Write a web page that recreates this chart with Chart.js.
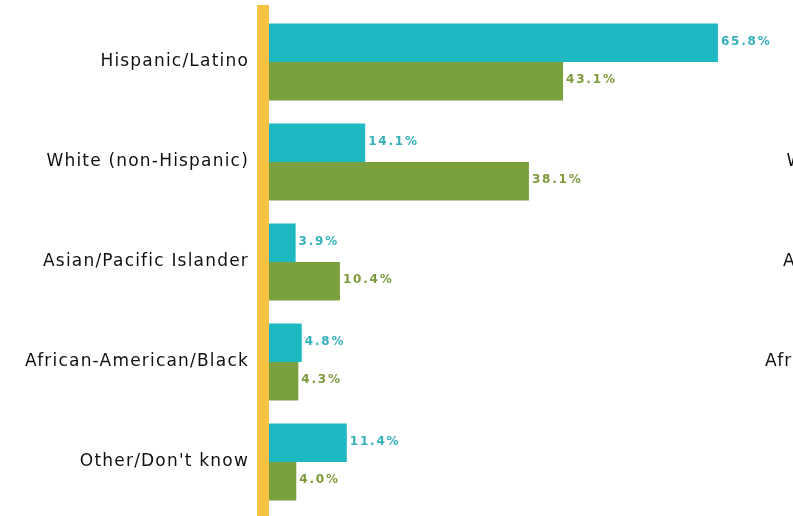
<!DOCTYPE html>
<html>
<head>
<meta charset="utf-8">
<script src="https://cdn.jsdelivr.net/npm/chart.js@4/dist/chart.umd.min.js"></script>
<style>
  html, body { margin: 0; padding: 0; background: #fff; }
  #wrap { width: 793px; height: 516px; position: relative; }
</style>
</head>
<body>
<div id="wrap"><canvas id="chart"></canvas></div>
<script>
const categories = [
  "Hispanic/Latino",
  "White (non-Hispanic)",
  "Asian/Pacific Islander",
  "African-American/Black",
  "Other/Don't know"
];
const series_a = [65.8, 14.1, 3.9, 4.8, 11.4];
const series_b = [43.1, 38.1, 10.4, 4.3, 4.0];

const TEAL = '#1db8c1';
const GREEN = '#7ba03e';
const YELLOW = '#f6c244';
const LABEL_SPACING = '1.2px';

// yellow spine on the left of the bars
const spine = {
  id: 'spine',
  beforeDatasetsDraw(chart) {
    const ctx = chart.ctx;
    const a = chart.chartArea;
    ctx.save();
    ctx.fillStyle = YELLOW;
    ctx.fillRect(a.left - 12, a.top - 7, 12, chart.height);
    ctx.restore();
  }
};

// value labels at the end of every bar
const valueLabels = {
  id: 'valueLabels',
  afterDatasetsDraw(chart) {
    const ctx = chart.ctx;
    ctx.save();
    ctx.font = 'bold 12px "DejaVu Sans"';
    ctx.letterSpacing = '1.8px';
    ctx.textBaseline = 'middle';
    ctx.textAlign = 'left';
    chart.data.datasets.forEach((ds, i) => {
      ctx.fillStyle = ds.labelColor;
      chart.getDatasetMeta(i).data.forEach((bar, j) => {
        ctx.fillText(ds.data[j].toFixed(1) + '%', bar.x + 3, bar.y - 1);
      });
    });
    ctx.restore();
  }
};

// the next chart's labels peek in at the right edge
const neighbour = {
  id: 'neighbour',
  afterDraw(chart) {
    const ctx = chart.ctx;
    const y = chart.scales.y;
    ctx.save();
    ctx.font = '17px "DejaVu Sans"';
    ctx.letterSpacing = LABEL_SPACING;
    ctx.fillStyle = '#111';
    ctx.textAlign = 'right';
    ctx.textBaseline = 'middle';
    categories.forEach((c, i) => {
      ctx.fillText(c, y.right - 20 + 740, y.getPixelForValue(i));
    });
    ctx.restore();
  }
};

const spacing = {
  id: 'spacing',
  beforeDraw(chart) { chart.ctx.letterSpacing = LABEL_SPACING; }
};

new Chart(document.getElementById('chart'), {
  type: 'bar',
  data: {
    labels: categories,
    datasets: [
      { data: series_a, backgroundColor: TEAL, labelColor: '#34b0bc' },
      { data: series_b, backgroundColor: GREEN, labelColor: '#7d9b3b' }
    ]
  },
  options: {
    indexAxis: 'y',
    responsive: true,
    maintainAspectRatio: false,
    animation: false,
    layout: { padding: { top: 12, bottom: 4, right: 0, left: 0 } },
    datasets: { bar: { categoryPercentage: 0.77, barPercentage: 1.0 } },
    plugins: { legend: { display: false }, tooltip: { enabled: false } },
    scales: {
      x: {
        display: false,
        min: 0,
        max: 76.8
      },
      y: {
        afterFit(scale) {
          scale.width = 269;
          scale.paddingTop = 0;
          scale.paddingBottom = 0;
        },
        grid: { display: false, drawTicks: false },
        border: { display: false },
        ticks: {
          padding: 20,
          color: '#111',
          font: { family: 'DejaVu Sans', size: 17 }
        }
      }
    }
  },
  plugins: [spacing, spine, valueLabels, neighbour]
});
</script>
</body>
</html>
